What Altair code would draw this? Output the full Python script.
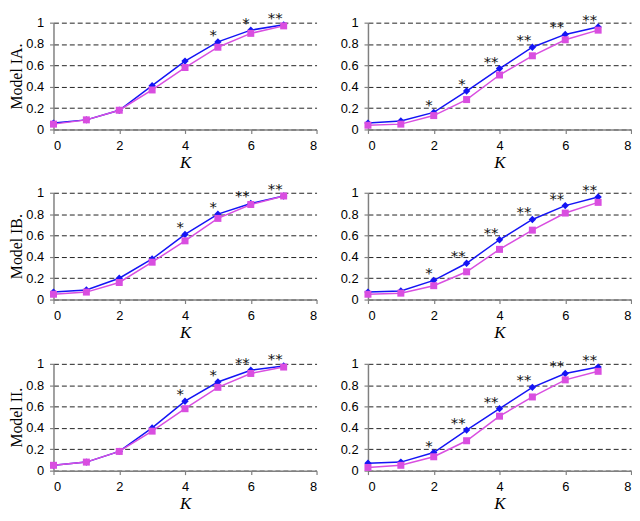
import altair as alt
import pandas as pd

K = [0, 1, 2, 3, 4, 5, 6, 7]

ia_left_blue = [0.06, 0.09, 0.18, 0.41, 0.64, 0.82, 0.93, 0.98]
ia_left_mag = [0.05, 0.09, 0.18, 0.37, 0.58, 0.77, 0.90, 0.97]
ia_left_star = ["", "", "", "", "", "*", "*", "**"]

ia_right_blue = [0.06, 0.08, 0.16, 0.36, 0.57, 0.77, 0.89, 0.96]
ia_right_mag = [0.04, 0.05, 0.13, 0.28, 0.51, 0.69, 0.84, 0.93]
ia_right_star = ["", "", "*", "*", "**", "**", "**", "**"]

ib_left_blue = [0.07, 0.09, 0.20, 0.38, 0.61, 0.80, 0.90, 0.97]
ib_left_mag = [0.05, 0.07, 0.16, 0.35, 0.55, 0.76, 0.89, 0.97]
ib_left_star = ["", "", "", "", "*", "*", "**", "**"]

ib_right_blue = [0.07, 0.08, 0.18, 0.34, 0.56, 0.75, 0.88, 0.96]
ib_right_mag = [0.05, 0.06, 0.13, 0.26, 0.47, 0.65, 0.81, 0.91]
ib_right_star = ["", "", "*", "**", "**", "**", "**", "**"]

ii_left_blue = [0.05, 0.08, 0.18, 0.40, 0.65, 0.83, 0.94, 0.98]
ii_left_mag = [0.05, 0.08, 0.18, 0.37, 0.58, 0.78, 0.91, 0.97]
ii_left_star = ["", "", "", "", "*", "*", "**", "**"]

ii_right_blue = [0.07, 0.08, 0.17, 0.38, 0.58, 0.78, 0.91, 0.97]
ii_right_mag = [0.03, 0.05, 0.13, 0.28, 0.51, 0.69, 0.85, 0.93]
ii_right_star = ["", "", "*", "**", "**", "**", "**", "**"]

row_titles = ["Model IA.", "Model IB.", "Model II."]
x_ticks = [0, 2, 4, 6, 8]
y_ticks = [0, 0.2, 0.4, 0.6, 0.8, 1.0]

BLUE = "#1414f5"
MAG = "#d94ee0"
W, H = 266, 108


def panel(blue, mag, stars, ytitle):
    df = pd.DataFrame({"K": K, "blue": blue, "mag": mag, "star": stars})
    base = alt.Chart(df)
    xax = alt.Axis(values=x_ticks, format="d", grid=False,
                   title="K", titleFont="Liberation Serif",
                   titleFontStyle="italic", titleFontWeight="normal",
                   titleFontSize=17, titlePadding=2)
    xs = alt.Scale(domain=[0, 8], nice=False)
    if ytitle:
        yax = alt.Axis(values=y_ticks, format="~g", title=ytitle,
                       titleFont="Liberation Serif", titleFontWeight="normal",
                       titleFontSize=16, titlePadding=1)
    else:
        yax = alt.Axis(values=y_ticks, format="~g", title=None)
    ys = alt.Scale(domain=[0, 1], nice=False)

    def enc(field):
        return dict(x=alt.X("K:Q", scale=xs, axis=xax),
                    y=alt.Y(field + ":Q", scale=ys, axis=yax))

    lb = base.mark_line(color=BLUE, strokeWidth=1.5).encode(**enc("blue"))
    lm = base.mark_line(color=MAG, strokeWidth=1.5).encode(**enc("mag"))
    pb = base.mark_point(shape="diamond", filled=True, color=BLUE, size=55,
                         opacity=1).encode(**enc("blue"))
    pm = base.mark_point(shape="square", filled=True, color=MAG, size=50,
                         opacity=1).encode(**enc("mag"))
    st = base.mark_text(align="right", baseline="alphabetic", dx=-1, dy=-2,
                        fontSize=15, font="DejaVu Sans",
                        color="#111").encode(text="star:N", **enc("blue"))
    return alt.layer(lb, lm, pb, pm, st).properties(width=W, height=H)


rows = [
    (ia_left_blue, ia_left_mag, ia_left_star, ia_right_blue, ia_right_mag, ia_right_star),
    (ib_left_blue, ib_left_mag, ib_left_star, ib_right_blue, ib_right_mag, ib_right_star),
    (ii_left_blue, ii_left_mag, ii_left_star, ii_right_blue, ii_right_mag, ii_right_star),
]

charts = []
for title, r in zip(row_titles, rows):
    left = panel(r[0], r[1], r[2], title)
    right = panel(r[3], r[4], r[5], None)
    charts.append(alt.hconcat(left, right, spacing=22))

chart = alt.vconcat(*charts, spacing=12).properties(padding=0).configure_view(
    stroke=None
).configure_axis(
    domainColor="#808080", domainWidth=1.5,
    tickColor="#808080", tickSize=4, tickWidth=1.2,
    labelFont="Liberation Sans", labelFontSize=13, labelColor="#000",
    labelPadding=6, titleColor="#000",
).configure_axisY(
    grid=True, gridDash=[5, 3], gridColor="#222", gridWidth=1,
)

chart.save("out.html", embed_options={"renderer": "svg", "actions": False})
